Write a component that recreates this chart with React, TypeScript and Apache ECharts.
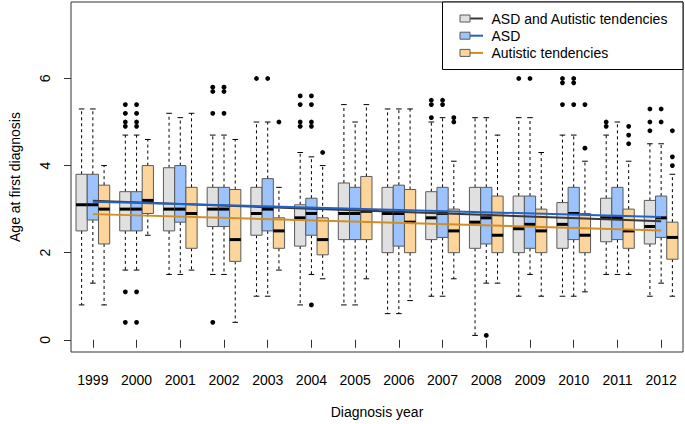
import React, { useEffect, useRef } from 'react';
import * as echarts from 'echarts';

const years = ['1999', '2000', '2001', '2002', '2003', '2004', '2005', '2006', '2007', '2008', '2009', '2010', '2011', '2012'];

// [lower whisker, Q1, median, Q3, upper whisker]
const combinedBoxes = [
  [0.8, 2.5, 3.1, 3.8, 5.3],
  [1.6, 2.5, 3.0, 3.4, 4.7],
  [1.5, 2.5, 3.0, 3.95, 5.2],
  [1.5, 2.6, 3.0, 3.5, 4.7],
  [1.0, 2.4, 2.9, 3.5, 5.0],
  [0.8, 2.15, 2.8, 3.1, 4.3],
  [0.8, 2.3, 2.9, 3.6, 5.4],
  [0.6, 2.0, 2.9, 3.5, 5.3],
  [1.0, 2.3, 2.8, 3.4, 5.0],
  [0.1, 2.1, 2.7, 3.5, 5.1],
  [1.0, 2.0, 2.55, 3.3, 5.1],
  [1.0, 2.1, 2.65, 3.15, 4.7],
  [1.5, 2.25, 2.8, 3.25, 4.7],
  [1.0, 2.2, 2.6, 3.2, 4.5],
];
const asdBoxes = [
  [1.3, 2.75, 3.1, 3.8, 5.3],
  [1.6, 2.5, 3.0, 3.4, 4.7],
  [1.5, 2.7, 3.0, 4.0, 5.1],
  [1.5, 2.6, 3.0, 3.5, 4.7],
  [1.0, 2.5, 3.0, 3.7, 5.0],
  [1.5, 2.4, 2.9, 3.25, 4.2],
  [0.8, 2.3, 2.9, 3.5, 5.0],
  [0.6, 2.15, 2.9, 3.55, 5.3],
  [1.0, 2.35, 2.9, 3.5, 5.1],
  [1.3, 2.2, 2.8, 3.5, 5.1],
  [1.5, 2.1, 2.65, 3.3, 5.1],
  [1.0, 2.3, 2.9, 3.5, 4.7],
  [1.5, 2.3, 2.8, 3.5, 5.0],
  [1.3, 2.35, 2.8, 3.3, 4.5],
];
const atBoxes = [
  [0.8, 2.2, 3.0, 3.55, 4.0],
  [2.4, 2.9, 3.2, 4.0, 4.6],
  [1.6, 2.1, 2.9, 3.5, 5.2],
  [0.4, 1.8, 2.3, 3.45, 4.6],
  [1.6, 2.1, 2.5, 2.8, 3.5],
  [1.4, 1.95, 2.3, 2.8, 4.0],
  [1.4, 2.3, 2.95, 3.75, 5.4],
  [0.9, 2.0, 2.7, 3.45, 5.3],
  [1.4, 2.0, 2.5, 3.0, 4.1],
  [1.3, 2.0, 2.4, 3.3, 4.7],
  [1.0, 2.0, 2.5, 3.0, 4.3],
  [1.1, 2.0, 2.4, 2.9, 4.1],
  [1.5, 2.1, 2.5, 3.0, 4.1],
  [1.0, 1.85, 2.35, 2.7, 3.8],
];

// [year, value]
const combinedOutliers = [
  ['2000', 5.4], ['2000', 5.2], ['2000', 5.0], ['2000', 4.9], ['2000', 1.1], ['2000', 0.4],
  ['2002', 5.8], ['2002', 5.7], ['2002', 5.2], ['2002', 0.4],
  ['2003', 6.0],
  ['2004', 5.6], ['2004', 5.4], ['2004', 5.0], ['2004', 4.9],
  ['2007', 5.5], ['2007', 5.4], ['2007', 5.1],
  ['2009', 6.0],
  ['2010', 6.0], ['2010', 5.9], ['2010', 5.4],
  ['2011', 5.0], ['2011', 4.9],
  ['2012', 5.3], ['2012', 5.0], ['2012', 4.8],
];
const asdOutliers = [
  ['2000', 5.4], ['2000', 5.2], ['2000', 5.0], ['2000', 4.9], ['2000', 1.1], ['2000', 0.4],
  ['2002', 5.8], ['2002', 5.7], ['2002', 5.2],
  ['2003', 6.0],
  ['2004', 5.6], ['2004', 5.4], ['2004', 5.0], ['2004', 4.9], ['2004', 0.8],
  ['2007', 5.5], ['2007', 5.4],
  ['2008', 0.1],
  ['2009', 6.0],
  ['2010', 6.0], ['2010', 5.9], ['2010', 5.4],
  ['2012', 5.3], ['2012', 5.0],
];
const atOutliers = [
  ['2003', 5.0],
  ['2004', 4.3],
  ['2007', 5.1], ['2007', 5.0],
  ['2010', 5.4], ['2010', 4.4],
  ['2011', 4.9], ['2011', 4.7], ['2011', 4.5],
  ['2012', 4.8], ['2012', 4.2], ['2012', 4.0],
];

// regression line values at first and last year
const combinedFit = [3.19, 2.72];
const asdFit = [3.17, 2.82];
const atFit = [2.885, 2.51];

const yTicks = [0, 2, 4, 6];

const FONT = '"Liberation Sans", Arial, Helvetica, sans-serif';

const groups = [
  { name: 'ASD and Autistic tendencies', boxes: combinedBoxes, outliers: combinedOutliers, fit: combinedFit, fill: '#e0e0e0', line: '#3a3a3a', slot: -1 },
  { name: 'ASD', boxes: asdBoxes, outliers: asdOutliers, fit: asdFit, fill: '#9cc3fb', line: '#2463c4', slot: 0 },
  { name: 'Autistic tendencies', boxes: atBoxes, outliers: atOutliers, fit: atFit, fill: '#fdd59b', line: '#d18d26', slot: 1 },
];

function boxRenderer(slot: number, fill: string) {
  return (params: any, api: any) => {
    const idx = api.value(0);
    const low = api.coord([idx, api.value(1)])[1];
    const q1 = api.coord([idx, api.value(2)])[1];
    const med = api.coord([idx, api.value(3)])[1];
    const q3 = api.coord([idx, api.value(4)])[1];
    const high = api.coord([idx, api.value(5)])[1];
    const band = api.size([1, 0])[0];
    const w = band * 0.257;
    const cx = api.coord([idx, 0])[0] + slot * w;
    const half = w / 2;
    const cap = w / 4;
    const dash = { stroke: '#000', lineWidth: 1, lineDash: [3, 3] };
    const solid = { stroke: '#000', lineWidth: 1 };
    return {
      type: 'group',
      children: [
        { type: 'line', shape: { x1: cx, y1: q3, x2: cx, y2: high }, style: dash },
        { type: 'line', shape: { x1: cx, y1: q1, x2: cx, y2: low }, style: dash },
        { type: 'line', shape: { x1: cx - cap, y1: high, x2: cx + cap, y2: high }, style: solid },
        { type: 'line', shape: { x1: cx - cap, y1: low, x2: cx + cap, y2: low }, style: solid },
        { type: 'rect', shape: { x: cx - half, y: q3, width: w, height: q1 - q3 }, style: { fill, stroke: '#5a5a5a', lineWidth: 1 } },
        { type: 'line', shape: { x1: cx - half, y1: med, x2: cx + half, y2: med }, style: { stroke: '#000', lineWidth: 3 } },
      ],
    };
  };
}

function outlierRenderer(slot: number) {
  return (params: any, api: any) => {
    const idx = api.value(0);
    const pt = api.coord([idx, api.value(1)]);
    const band = api.size([1, 0])[0];
    const w = band * 0.257;
    return {
      type: 'circle',
      shape: { cx: pt[0] + slot * w, cy: pt[1], r: 2.4 },
      style: { fill: '#000' },
    };
  };
}

export default function App() {
  const ref = useRef<HTMLDivElement>(null);
  useEffect(() => {
    if (!ref.current) return;
    const chart = echarts.init(ref.current, undefined, { renderer: 'svg' });
    const series: any[] = [];
    groups.forEach((g) => {
      series.push({
        type: 'custom',
        name: g.name,
        renderItem: boxRenderer(g.slot, g.fill),
        data: g.boxes.map((b, i) => [i, ...b]),
        encode: { x: 0, y: [1, 2, 3, 4, 5] },
        z: 2,
      });
      series.push({
        type: 'custom',
        name: g.name + ' outliers',
        renderItem: outlierRenderer(g.slot),
        data: g.outliers.map((o) => [years.indexOf(o[0] as string), o[1]]),
        encode: { x: 0, y: 1 },
        z: 2,
      });
    });
    groups.forEach((g) => {
      series.push({
        type: 'line',
        name: g.name + ' trend',
        data: [[0, g.fit[0]], [years.length - 1, g.fit[1]]],
        symbol: 'none',
        lineStyle: { color: g.line, width: 2 },
        z: 5,
      });
    });

    const legendItems: any[] = [
      { type: 'rect', shape: { x: 442.5, y: 2, width: 240.5, height: 67.5 }, style: { fill: '#fff', stroke: '#000', lineWidth: 1 }, z: 10 },
    ];
    groups.forEach((g, i) => {
      const yc = 18.5 + i * 17.2;
      legendItems.push({ type: 'line', shape: { x1: 470, y1: yc, x2: 483, y2: yc }, style: { stroke: g.line, lineWidth: 2 }, z: 11 });
      legendItems.push({ type: 'rect', shape: { x: 460, y: yc - 3.5, width: 10, height: 7 }, style: { fill: g.fill, stroke: '#5a5a5a', lineWidth: 1 }, z: 11 });
      legendItems.push({ type: 'text', x: 491.5, y: yc, style: { text: g.name, fontSize: 14, fontFamily: FONT, fill: '#000', verticalAlign: 'middle', align: 'left' }, z: 11 });
    });

    chart.setOption({
      animation: false,
      backgroundColor: '#fff',
      grid: { left: 67, right: 2, top: 2, bottom: 70, show: true, borderColor: '#333', borderWidth: 1, backgroundColor: 'transparent' },
      xAxis: {
        type: 'category',
        data: years,
        boundaryGap: true,
        axisLine: { show: false },
        axisTick: { show: true, alignWithLabel: true, length: 8, lineStyle: { color: '#333' } },
        axisLabel: { fontSize: 14, color: '#000', margin: 21, fontFamily: FONT },
        splitLine: { show: false },
        name: 'Diagnosis year',
        nameLocation: 'middle',
        nameGap: 53,
        nameTextStyle: { fontSize: 14, color: '#000', fontFamily: FONT },
      },
      yAxis: {
        type: 'value',
        min: -0.281,
        max: 7.756,
        axisLine: { show: false },
        axisTick: { show: true, length: 7, customValues: yTicks, lineStyle: { color: '#333' } },
        axisLabel: { customValues: yTicks, rotate: 90, margin: 19, fontSize: 14, color: '#000', fontFamily: FONT },
        splitLine: { show: false },
        name: 'Age at first diagnosis',
        nameLocation: 'middle',
        nameGap: 49,
        nameTextStyle: { fontSize: 14, color: '#000', fontFamily: FONT },
      },
      graphic: legendItems,
      series,
    });
    return () => chart.dispose();
  }, []);
  return <div ref={ref} style={{ position: 'fixed', left: 0, top: 0, width: 685, height: 424 }} />;
}
